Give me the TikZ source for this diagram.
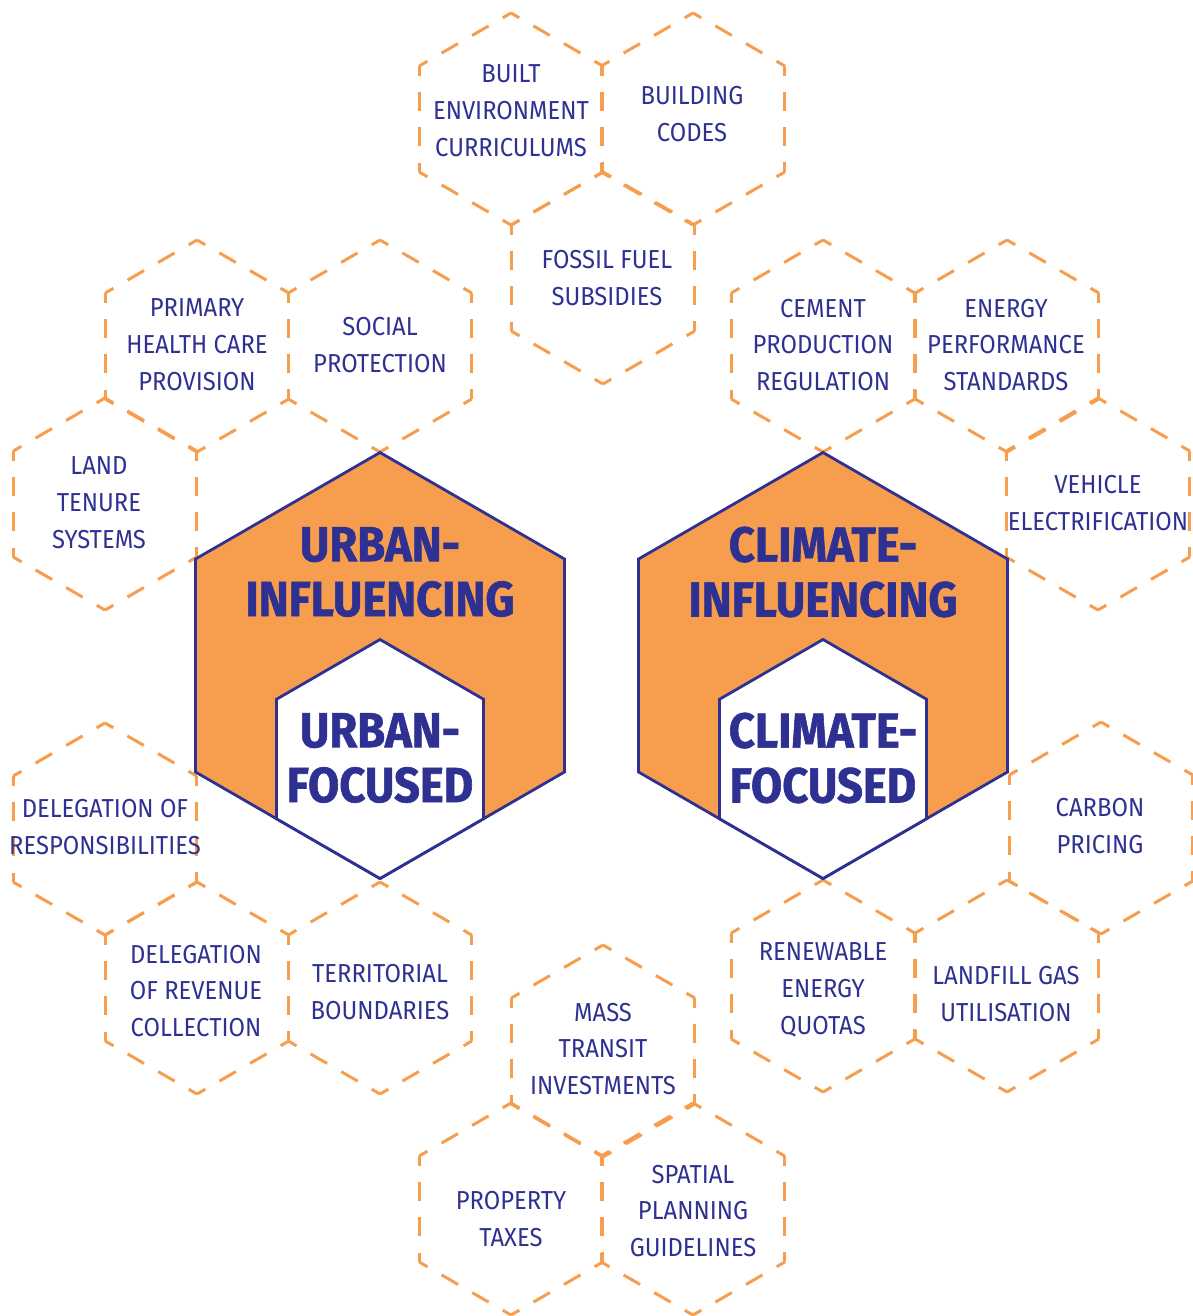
\documentclass[tikz,border=0pt]{standalone}
\usepackage{fontspec}
\setmainfont{Fira Sans}[FakeStretch=0.915]
\newfontfamily\headfont{Fira Sans}[FakeStretch=0.92,BoldFeatures={FakeBold=1.2}]
\definecolor{hexblue}{HTML}{2E3192}
\definecolor{hexorange}{HTML}{F79D4E}
\newcommand\dashhex[1]{\foreach \a in {30,90,...,330}{\draw[hexline] (#1) ++(\a:1.06) -- ++(\a+120:1.06);}}

\begin{document}
\begin{tikzpicture}[x=1cm,y=-1cm,
  hexline/.style={hexorange,line width=0.85pt,dash pattern=on 0.19cm off 0.163cm,dash phase=0.095cm},
  lbl/.style={text=hexblue,align=center,inner sep=0pt,font=\fontsize{7.4}{10.5}\selectfont},
  head/.style={text=hexblue,align=center,inner sep=0pt,font=\headfont\bfseries\fontsize{14}{15.6}\selectfont},
  bighex/.style={draw=hexblue,line width=0.8pt}]
\useasboundingbox (0,0) rectangle (11.93,13.16);

\foreach \x/\y in {5.11/1.19,6.93/1.19,6.03/2.78,1.97/3.46,3.80/3.46,1.05/5.04,
  8.23/3.46,10.07/3.46,10.98/5.04,1.05/8.29,1.97/9.88,3.80/9.88,6.03/10.51,
  5.11/12.09,6.93/12.09,11.01/8.28,8.23/9.86,10.07/9.86}
  \dashhex{\x,\y};

 \draw[bighex,fill=hexorange] (3.80,6.655) +(30:2.13) -- +(90:2.13) -- +(150:2.13) -- +(210:2.13) -- +(270:2.13) -- +(330:2.13) -- cycle;
 \draw[bighex,fill=white] (3.80,7.59) +(30:1.195) -- +(90:1.195) -- +(150:1.195) -- +(210:1.195) -- +(270:1.195) -- +(330:1.195) -- cycle;
 \draw[bighex,fill=hexorange] (8.23,6.655) +(30:2.13) -- +(90:2.13) -- +(150:2.13) -- +(210:2.13) -- +(270:2.13) -- +(330:2.13) -- cycle;
 \draw[bighex,fill=white] (8.23,7.59) +(30:1.195) -- +(90:1.195) -- +(150:1.195) -- +(210:1.195) -- +(270:1.195) -- +(330:1.195) -- cycle;

\node[head] (urbinf) at (3.80,5.72) {URBAN-\\INFLUENCING};
\node[head] (urbfoc) at (3.80,7.58) {URBAN-\\FOCUSED};
\node[head] (climinf) at (8.23,5.72) {CLIMATE-\\INFLUENCING};
\node[head] (climfoc) at (8.23,7.58) {CLIMATE-\\FOCUSED};

\node[lbl] (built) at (5.11,1.11) {BUILT\\ENVIRONMENT\\CURRICULUMS};
\node[lbl] (codes) at (6.92,1.14) {BUILDING\\CODES};
\node[lbl] (fossil) at (6.07,2.78) {FOSSIL FUEL\\SUBSIDIES};
\node[lbl] (health) at (1.97,3.45) {PRIMARY\\HEALTH CARE\\PROVISION};
\node[lbl] (social) at (3.80,3.45) {SOCIAL\\PROTECTION};
\node[lbl] (land) at (0.99,5.03) {LAND\\TENURE\\SYSTEMS};
\node[lbl] (cement) at (8.23,3.45) {CEMENT\\PRODUCTION\\REGULATION};
\node[lbl] (energy) at (10.06,3.45) {ENERGY\\PERFORMANCE\\STANDARDS};
\node[lbl] (vehicle) at (10.98,5.03) {VEHICLE\\ELECTRIFICATION};
\node[lbl] (resp) at (1.05,8.27) {DELEGATION OF\\RESPONSIBILITIES};
\node[lbl] (revenue) at (1.96,9.91) {DELEGATION\\OF REVENUE\\COLLECTION};
\node[lbl] (territ) at (3.80,9.92) {TERRITORIAL\\BOUNDARIES};
\node[lbl] (transit) at (6.03,10.49) {MASS\\TRANSIT\\INVESTMENTS};
\node[lbl] (property) at (5.11,12.19) {PROPERTY\\TAXES};
\node[lbl] (spatial) at (6.93,12.11) {SPATIAL\\PLANNING\\GUIDELINES};
\node[lbl] (carbon) at (11.00,8.26) {CARBON\\PRICING};
\node[lbl] (quotas) at (8.23,9.90) {RENEWABLE\\ENERGY\\QUOTAS};
\node[lbl] (landfill) at (10.06,9.94) {LANDFILL GAS\\UTILISATION};

\end{tikzpicture}
\end{document}
